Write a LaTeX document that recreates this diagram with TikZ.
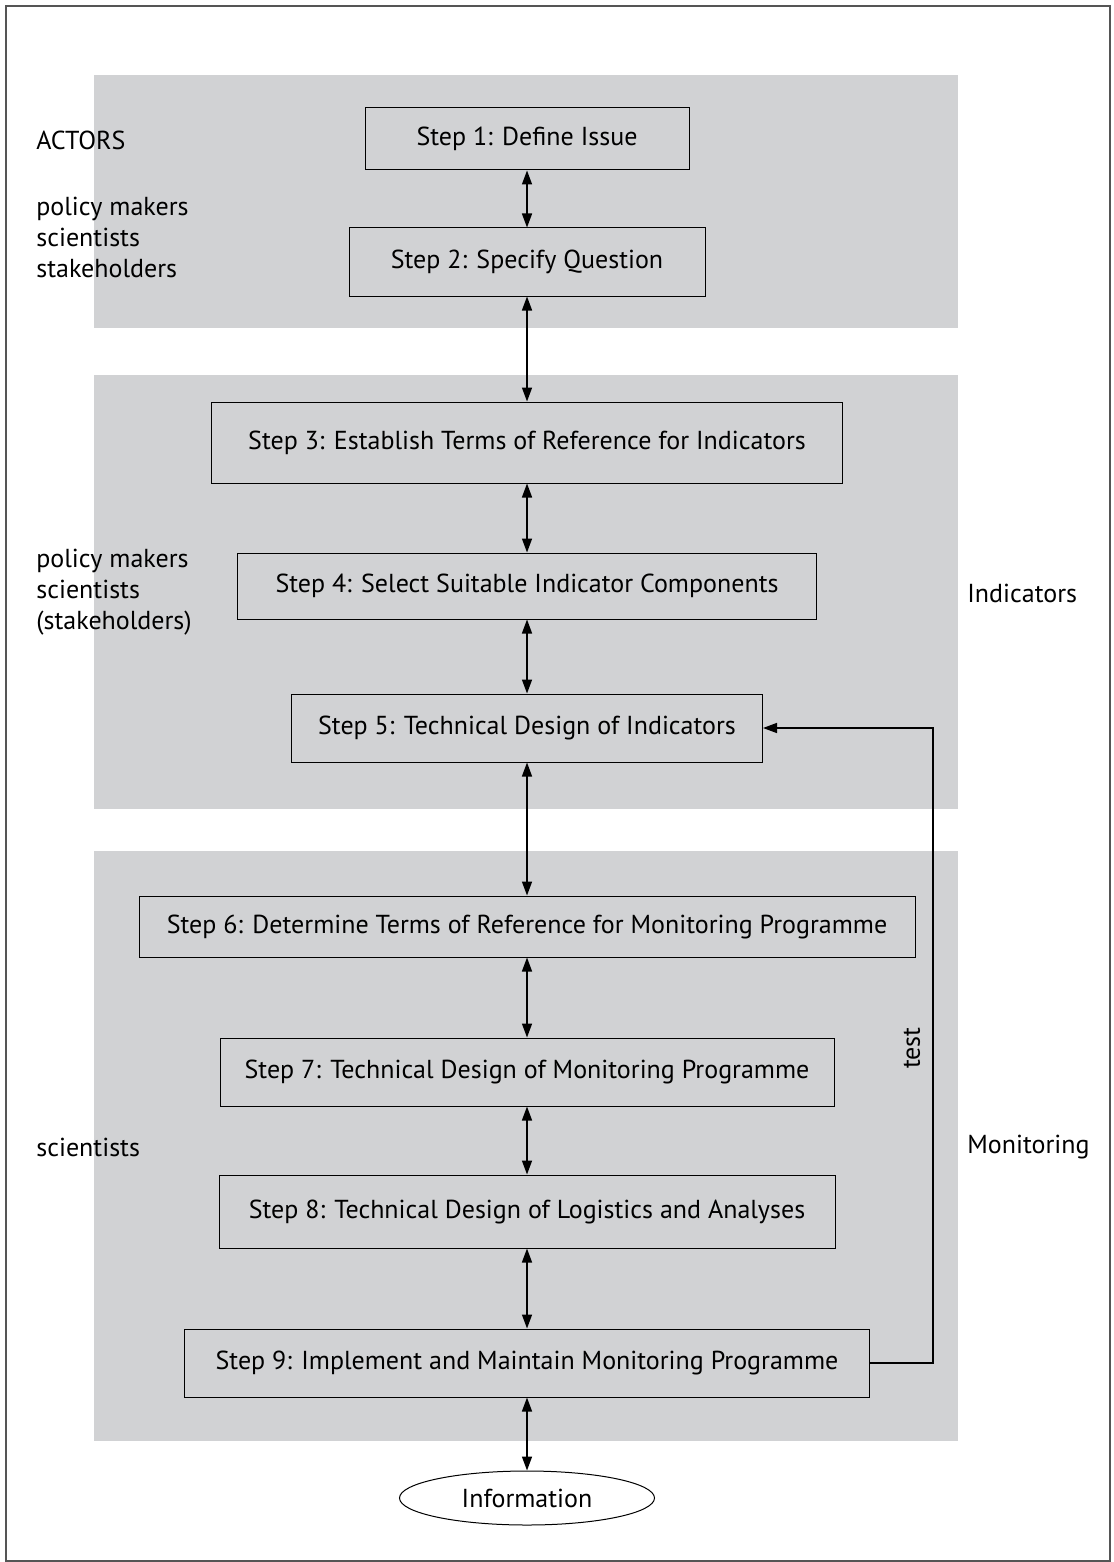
\documentclass[tikz,border=0pt]{standalone}
\usepackage{fontspec}
\setmainfont{PT Sans}
\usetikzlibrary{shapes,arrows.meta}

\definecolor{bandgray}{HTML}{D1D2D4}
\definecolor{framegray}{HTML}{555555}

\tikzset{
  stepbox/.style={shape=rectangle,draw=black,line width=0.5pt,inner sep=0pt,align=center},
  infobox/.style={shape=ellipse,draw=black,line width=0.5pt,inner sep=0pt,minimum width=127.5pt,minimum height=27pt},
  actor/.style={anchor=west,align=left,inner sep=0pt},
  side/.style={anchor=west,inner sep=0pt},
  both/.style={{Triangle[length=7pt,width=5pt]}-{Triangle[length=7pt,width=5pt]},draw=black,line width=0.75pt},
  back/.style={-{Triangle[length=7pt,width=5pt]},draw=black,line width=0.75pt}
}

\begin{document}
\begin{tikzpicture}[x=0.5pt,y=-0.5pt,font=\fontsize{13}{15.5}\selectfont]
\useasboundingbox (0,0) rectangle (1113,1562);
\draw[draw=framegray,line width=1pt] (6,6) rectangle (1110,1561);

% gray bands
\fill[bandgray] (94,75) rectangle (958,328);
\fill[bandgray] (94,375) rectangle (958,809);
\fill[bandgray] (94,851) rectangle (958,1441);

\node[stepbox,minimum width=162pt,minimum height=31pt] (s1) at (527,139) {Step 1: Define Issue};
\node[stepbox,minimum width=178pt,minimum height=34pt] (s2) at (527,262) {Step 2: Specify Question};
\node[stepbox,minimum width=315.5pt,minimum height=40.5pt] (s3) at (527,442.5) {Step 3: Establish Terms of Reference for Indicators};
\node[stepbox,minimum width=289.5pt,minimum height=33pt] (s4) at (527,586) {Step 4: Select Suitable Indicator Components};
\node[stepbox,minimum width=235.5pt,minimum height=34pt] (s5) at (527,728) {Step 5: Technical Design of Indicators};
\node[stepbox,minimum width=388pt,minimum height=30.5pt] (s6) at (527,926.5) {Step 6: Determine Terms of Reference for Monitoring Programme};
\node[stepbox,minimum width=307pt,minimum height=34pt] (s7) at (527,1072) {Step 7: Technical Design of Monitoring Programme};
\node[stepbox,minimum width=308pt,minimum height=36.5pt] (s8) at (527,1211.5) {Step 8: Technical Design of Logistics and Analyses};
\node[stepbox,minimum width=342.5pt,minimum height=34pt] (s9) at (527,1363) {Step 9: Implement and Maintain Monitoring Programme};
\node[infobox] (info) at (527,1498) {Information};

\node[actor] (actors) at (36,140) {ACTORS};
\node[actor] (a1) at (36,237) {policy makers\\scientists\\stakeholders};
\node[actor] (a2) at (36,592) {policy makers\\scientists\\(stakeholders)};
\node[actor] (a3) at (36,1147) {scientists};
\node[side] (ind) at (967,593) {Indicators};
\node[side] (mon) at (967,1147) {Monitoring};
\coordinate (c1) at (933,1363);
\coordinate (c2) at (933,728);
\node[rotate=90,inner sep=0pt] (test) at (912,1048) {test};

\path [both] (s1) edge (s2);
\path [both] (s2) edge (s3);
\path [both] (s3) edge (s4);
\path [both] (s4) edge (s5);
\path [both] (s5) edge (s6);
\path [both] (s6) edge (s7);
\path [both] (s7) edge (s8);
\path [both] (s8) edge (s9);
\path [both] (s9) edge (info);
\draw [back] (s9.east) -- (c1) -- (c2) -- (s5.east);
\end{tikzpicture}
\end{document}
